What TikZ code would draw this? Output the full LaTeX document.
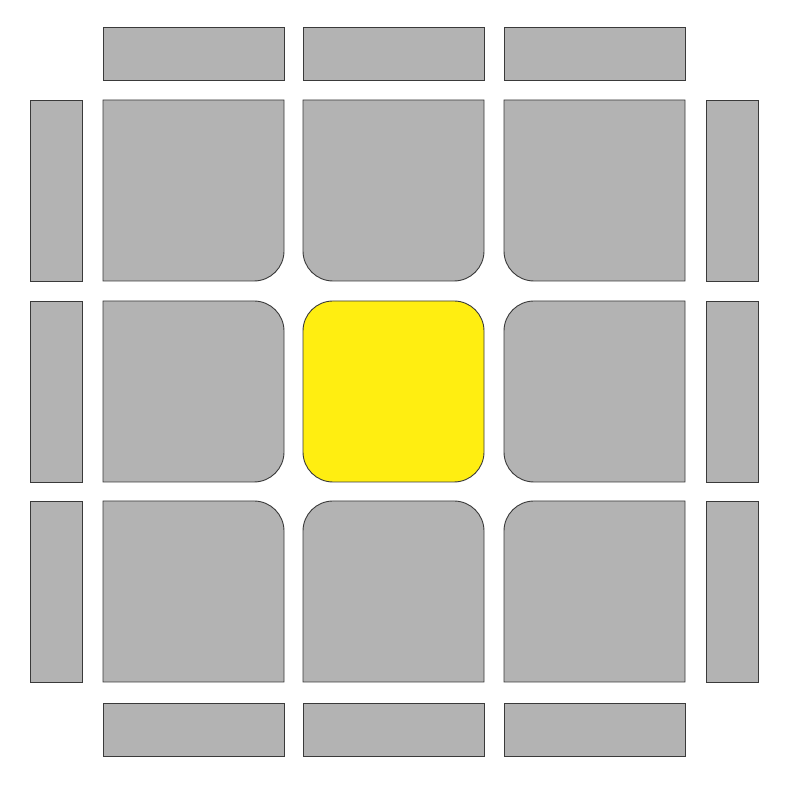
\documentclass[tikz,border=0pt]{standalone}
\usetikzlibrary{calc}
\definecolor{facegray}{HTML}{B3B3B3}
\definecolor{faceyellow}{HTML}{FFEE11}
\definecolor{edgecol}{HTML}{3A3A3A}
\tikzset{
  sticker/.style={fill=facegray, draw=edgecol, line width=0.9pt},
  centre/.style={fill=faceyellow, draw=edgecol, line width=0.9pt}
}
% #1 style, #2 x0, #3 y0 (bottom-left), #4 rBL, #5 rBR, #6 rTR, #7 rTL
\newcommand\cubecell[7]{%
  \path[#1] (#2+#4,#3) -- (#2+181-#5,#3)
    arc[start angle=-90,end angle=0,radius=#5]
    -- (#2+181,#3+181-#6)
    arc[start angle=0,end angle=90,radius=#6]
    -- (#2+#7,#3+181)
    arc[start angle=90,end angle=180,radius=#7]
    -- (#2,#3+#4)
    arc[start angle=180,end angle=270,radius=#4]
    -- cycle;}
\begin{document}
\begin{tikzpicture}[x=1pt,y=1pt]
\useasboundingbox (0,0) rectangle (799,799);
% top row
\cubecell{sticker}{103}{518}{0.01}{30}{0.01}{0.01}
\cubecell{sticker}{303}{518}{30}{30}{0.01}{0.01}
\cubecell{sticker}{504}{518}{30}{0.01}{0.01}{0.01}
% middle row
\cubecell{sticker}{103}{317}{0.01}{30}{30}{0.01}
\cubecell{centre}{303}{317}{30}{30}{30}{30}
\cubecell{sticker}{504}{317}{30}{0.01}{0.01}{30}
% bottom row
\cubecell{sticker}{103}{117}{0.01}{0.01}{30}{0.01}
\cubecell{sticker}{303}{117}{0.01}{0.01}{30}{30}
\cubecell{sticker}{504}{117}{0.01}{0.01}{0.01}{30}
% top strips
\foreach \x in {103,303,504} \draw[sticker] (\x,719) rectangle (\x+181,772);
% bottom strips
\foreach \x in {103,303,504} \draw[sticker] (\x,43) rectangle (\x+181,96);
% side strips
\foreach \y in {518,317,117} {
  \draw[sticker] (30,\y) rectangle (82,\y+181);
  \draw[sticker] (706,\y) rectangle (758,\y+181);
}
\end{tikzpicture}
\end{document}
